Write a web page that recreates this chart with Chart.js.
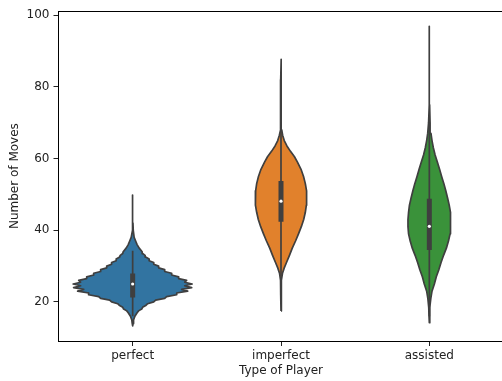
<!DOCTYPE html>
<html>
<head>
<meta charset="utf-8">
<script src="https://cdn.jsdelivr.net/npm/chart.js@4.4.1/dist/chart.umd.min.js"></script>
<style>
  html, body { margin: 0; padding: 0; background: #fff; overflow: hidden; }
  #wrap { position: relative; width: 510px; height: 381px; }
</style>
</head>
<body>
<div id="wrap"><canvas id="chart"></canvas></div>
<script>
// Groups along the x axis
const categories = ['perfect', 'imperfect', 'assisted'];

// Violin outlines: value levels and half-widths (in category units)
const perfectLevels = [13.3, 14, 15, 16, 17, 17.5, 18, 18.5, 19, 19.5, 20, 20.5, 21, 21.5, 22, 22.5, 23, 23.5, 24, 24.5, 25, 25.5, 26, 26.5, 27, 27.5, 28, 28.5, 29, 29.5, 30, 30.5, 31, 31.5, 32, 32.5, 33, 33.5, 34, 35, 36, 37, 38, 40, 42, 45, 48, 49.8];
const perfectWidths = [0, 0.003, 0.006, 0.015, 0.030, 0.040, 0.061, 0.067, 0.088, 0.101, 0.142, 0.155, 0.216, 0.229, 0.297, 0.297, 0.371, 0.330, 0.398, 0.351, 0.401, 0.351, 0.364, 0.310, 0.310, 0.263, 0.263, 0.216, 0.216, 0.175, 0.175, 0.142, 0.142, 0.111, 0.111, 0.088, 0.084, 0.067, 0.064, 0.044, 0.030, 0.020, 0.010, 0.004, 0.002, 0.002, 0.002, 0];

const imperfectLevels = [17.5, 22, 26, 28, 29.5, 31, 33, 35, 37, 39, 41, 43, 45, 47, 49, 51, 53, 55, 57, 59, 60.5, 62, 63.5, 65, 66.5, 68, 71, 76, 82, 87.7];
const imperfectWidths = [0, 0.002, 0.003, 0.010, 0.022, 0.037, 0.057, 0.076, 0.098, 0.118, 0.137, 0.153, 0.164, 0.171, 0.174, 0.171, 0.164, 0.152, 0.135, 0.111, 0.091, 0.064, 0.040, 0.022, 0.011, 0.005, 0.002, 0.002, 0.002, 0];

const assistedLevels = [14.2, 16, 18.5, 21, 23, 25, 27, 29, 31, 33, 35, 37, 39, 41, 43, 45, 47, 49, 51, 53, 55, 57, 59, 61, 63, 65, 67, 70, 75, 85, 96.9];
const assistedWidths = [0, 0.002, 0.004, 0.010, 0.018, 0.034, 0.047, 0.064, 0.079, 0.096, 0.115, 0.129, 0.140, 0.144, 0.144, 0.140, 0.134, 0.123, 0.111, 0.098, 0.083, 0.069, 0.054, 0.039, 0.027, 0.018, 0.011, 0.005, 0.002, 0.002, 0];

// Inner box statistics per group
const whiskerLow = [16, 27, 16];
const q1 = [21.2, 42.4, 34.5];
const medians = [25.0, 48.1, 41.1];
const q3 = [27.9, 53.7, 48.8];
const whiskerHigh = [34.3, 70, 70];

// Axis ticks
const yTicks = [20, 40, 60, 80, 100];

const fills = ['#3274a1', '#e1812c', '#3a923a'];
const edge = '#3f3f3f';
const textColor = '#222';
const font = { family: 'DejaVu Sans', size: 12 };

const profiles = [
  [perfectLevels, perfectWidths],
  [imperfectLevels, imperfectWidths],
  [assistedLevels, assistedWidths]
];

// Closed outline: up the right side, back down the left side
function outline(center, levels, widths) {
  const pts = [];
  for (let i = 0; i < levels.length; i++) pts.push({ x: center + widths[i], y: levels[i] });
  for (let i = levels.length - 1; i >= 0; i--) pts.push({ x: center - widths[i], y: levels[i] });
  return pts;
}

const datasets = [];
profiles.forEach(([levels, widths], i) => {
  datasets.push({
    data: outline(i, levels, widths),
    showLine: true,
    fill: 'shape',
    backgroundColor: fills[i],
    borderColor: edge,
    borderWidth: 1.7,
    borderJoinStyle: 'round',
    pointRadius: 0,
    tension: 0,
    order: 3
  });
});
categories.forEach((c, i) => {
  datasets.push({
    data: [{ x: i, y: whiskerLow[i] }, { x: i, y: whiskerHigh[i] }],
    showLine: true, borderColor: edge, borderWidth: 1.7, pointRadius: 0, order: 2
  });
  datasets.push({
    data: [{ x: i, y: q1[i] }, { x: i, y: q3[i] }],
    showLine: true, borderColor: edge, borderWidth: 5, pointRadius: 0, order: 1
  });
});
datasets.push({
  data: medians.map((m, i) => ({ x: i, y: m })),
  showLine: false, pointRadius: 1.6, pointBackgroundColor: '#fff',
  pointBorderWidth: 0, order: 0
});

new Chart(document.getElementById('chart'), {
  type: 'scatter',
  data: { datasets },
  options: {
    responsive: true,
    maintainAspectRatio: false,
    animation: false,
    events: [],
    layout: { padding: { top: 9, right: 6.5, left: 0, bottom: 0 } },
    plugins: { legend: { display: false }, tooltip: { enabled: false } },
    scales: {
      x: {
        type: 'linear', position: 'bottom', min: -0.5, max: 2.5,
        afterBuildTicks: s => { s.ticks = categories.map((c, i) => ({ value: i })); },
        afterFit: s => { s.height = 40; },
        ticks: { callback: v => categories[v], color: textColor, font, padding: 3, maxRotation: 0 },
        grid: { drawOnChartArea: false, tickLength: 5, tickColor: textColor, tickWidth: 1 },
        border: { display: true, color: '#000', width: 1 },
        title: { display: true, text: 'Type of Player', color: textColor, font, padding: { top: 0, bottom: 3 } }
      },
      xTop: {
        type: 'linear', position: 'top', min: -0.5, max: 2.5,
        afterFit: s => { s.height = 0; },
        ticks: { display: false },
        grid: { drawOnChartArea: false, drawTicks: false },
        border: { display: true, color: '#000', width: 1 }
      },
      y: {
        type: 'linear', position: 'left', min: 9.1, max: 101.1,
        afterBuildTicks: s => { s.ticks = yTicks.map(v => ({ value: v })); },
        afterFit: s => { s.width = 58.5; },
        ticks: { color: textColor, font, padding: 4 },
        grid: { drawOnChartArea: false, tickLength: 5, tickColor: textColor, tickWidth: 1 },
        border: { display: true, color: '#000', width: 1 },
        title: { display: true, text: 'Number of Moves', color: textColor, font, padding: { top: 8, bottom: 0 } }
      }
    }
  }
});
</script>
</body>
</html>
